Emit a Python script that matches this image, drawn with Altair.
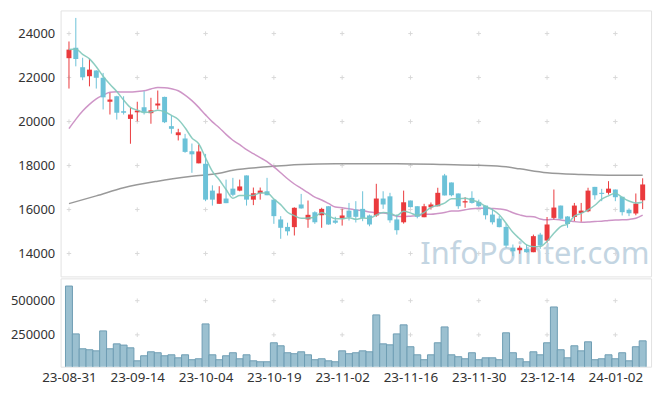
import altair as alt
import pandas as pd

# ---- data ----
dates = [
    "23-08-31", "23-09-01", "23-09-04", "23-09-05", "23-09-06", "23-09-07", "23-09-08",
    "23-09-11", "23-09-12", "23-09-13", "23-09-14", "23-09-15", "23-09-18", "23-09-19",
    "23-09-20", "23-09-21", "23-09-22", "23-09-25", "23-09-26", "23-09-27", "23-10-04",
    "23-10-05", "23-10-06", "23-10-10", "23-10-11", "23-10-12", "23-10-13", "23-10-16",
    "23-10-17", "23-10-18", "23-10-19", "23-10-20", "23-10-23", "23-10-24", "23-10-25",
    "23-10-26", "23-10-27", "23-10-30", "23-10-31", "23-11-01", "23-11-02", "23-11-03",
    "23-11-06", "23-11-07", "23-11-08", "23-11-09", "23-11-10", "23-11-13", "23-11-14",
    "23-11-15", "23-11-16", "23-11-17", "23-11-20", "23-11-21", "23-11-22", "23-11-23",
    "23-11-24", "23-11-27", "23-11-28", "23-11-29", "23-11-30", "23-12-01", "23-12-04",
    "23-12-05", "23-12-06", "23-12-07", "23-12-08", "23-12-11", "23-12-12", "23-12-13",
    "23-12-14", "23-12-15", "23-12-18", "23-12-19", "23-12-20", "23-12-21", "23-12-22",
    "23-12-26", "23-12-27", "23-12-28", "24-01-02", "24-01-03", "24-01-04", "24-01-05",
    "24-01-08",
]
opens = [22880, 23350, 22470, 22060, 22320, 21990, 20900, 21150, 20470, 20120,
         20420, 20650, 20380, 20730, 21120, 19790, 19380, 19230, 18650, 18100,
         18080, 16860, 16260, 16500, 16950, 16860, 17550, 16450, 16740, 16830,
         16450, 15550, 15210, 15200, 16230, 15550, 15880, 15740, 16150, 15500,
         15590, 15950, 16000, 16030, 15730, 15730, 16500, 16600, 15550, 15420,
         16410, 16150, 15650, 16100, 16150, 17550, 17230, 16730, 16320, 16530,
         16350, 16180, 15770, 15590, 15210, 14270, 14150, 14210, 14060, 14860,
         14590, 15620, 16180, 15680, 15660, 15840, 15920, 17030, 16760, 16760,
         16910, 16580, 15990, 15820, 16420]
highs = [23640, 24710, 22900, 22850, 22330, 22210, 21300, 21170, 21150, 20620,
         20900, 21380, 21080, 21410, 21130, 20270, 19670, 19440, 19000, 18950,
         18530, 17100, 17060, 17360, 17440, 17360, 17550, 17000, 17000, 17440,
         16460, 15700, 15400, 16100, 16710, 16410, 15920, 16080, 16150, 15670,
         16030, 16300, 16380, 16830, 15770, 17170, 16830, 16760, 15770, 16860,
         16410, 16150, 16260, 16320, 16990, 17620, 17230, 16730, 16560, 16830,
         16450, 16180, 16030, 15700, 15360, 14410, 14360, 14410, 14860, 14940,
         15660, 16910, 16180, 15700, 16300, 16300, 16990, 17030, 16940, 17290,
         16910, 16580, 16050, 16730, 17420]
lows = [21500, 22510, 21880, 21600, 21500, 20550, 20320, 20090, 20320, 18990,
        20010, 20320, 19900, 20550, 19930, 19450, 19140, 18580, 17670, 18100,
        16380, 16180, 16260, 16290, 16600, 16830, 16180, 16200, 16450, 16650,
        15350, 14670, 14820, 14820, 16040, 15170, 15350, 15170, 15310, 15350,
        15270, 15500, 15410, 15470, 15240, 15670, 16030, 15400, 14860, 15360,
        16100, 15600, 15650, 16000, 16150, 16640, 16600, 16030, 16080, 16270,
        16120, 15550, 15320, 15190, 14270, 13880, 13990, 14040, 14060, 14210,
        14490, 15550, 15550, 15170, 15480, 15450, 15880, 16450, 16380, 16680,
        16380, 15730, 15700, 15740, 16020]
closes = [23270, 22840, 22010, 22360, 21990, 21100, 21000, 20400, 20400, 20320,
          20500, 20440, 20510, 20820, 19970, 19670, 19510, 18620, 18510, 18640,
          16450, 16450, 16730, 16290, 16670, 17050, 16450, 16740, 16860, 16650,
          15700, 15170, 15010, 16080, 16050, 15760, 15420, 16030, 15320, 15400,
          15730, 15650, 15670, 15620, 15320, 16500, 16230, 15510, 15060, 16330,
          16110, 15670, 16150, 16230, 16760, 16640, 16650, 16150, 16380, 16300,
          16150, 15740, 15420, 15200, 14360, 14100, 14260, 14060, 14790, 14360,
          15320, 16090, 15580, 15340, 16180, 15950, 16860, 16650, 16710, 16950,
          16560, 15880, 15830, 16270, 17140]
volumes = [607000, 257000, 148000, 141000, 133000, 279000, 148000, 184000, 175000, 155000,
           60000, 97000, 126000, 119000, 97000, 104000, 82000, 104000, 68000, 75000,
           330000, 104000, 68000, 97000, 119000, 75000, 104000, 60000, 53000, 53000,
           192000, 170000, 119000, 112000, 126000, 104000, 68000, 75000, 60000, 53000,
           133000, 112000, 119000, 133000, 126000, 396000, 184000, 177000, 257000, 323000,
           163000, 104000, 68000, 104000, 192000, 308000, 104000, 90000, 75000, 119000,
           68000, 82000, 82000, 68000, 265000, 119000, 75000, 53000, 126000, 104000,
           192000, 454000, 141000, 82000, 170000, 133000, 199000, 68000, 75000, 104000,
           75000, 119000, 60000, 163000, 206000]
# moving-average values read off the picture where earlier data is not shown
ma5_head = [23270, 23300, 23050, 22850]
ma20_head = [19680, 20100, 20480, 20780, 21030, 21200, 21330, 21350, 21340, 21340,
             21370, 21400, 21480, 21550, 21540, 21490, 21400, 21200, 20950]
ma_long_idx = [0, 4, 8, 13, 18, 22, 24, 29, 34, 39, 48, 55, 60, 64, 66, 70, 75, 79, 84]
ma_long_val = [16270, 16620, 16990, 17290, 17510, 17650, 17790, 17940, 18045, 18080,
               18080, 18045, 18010, 17940, 17850, 17670, 17590, 17560, 17560]
tick_idx = [0, 10, 20, 30, 40, 50, 60, 70, 80]
price_ticks = [14000, 16000, 18000, 20000, 22000, 24000]
vol_ticks = [250000, 500000]
watermark = ["InfoPointer.com"]

# ---- tables ----
N = len(closes)
df = pd.DataFrame({"i": list(range(N)), "date": dates, "open": opens, "high": highs,
                   "low": lows, "close": closes, "volume": volumes})
ma5 = pd.Series(closes, dtype=float).rolling(5).mean()
ma5.iloc[:len(ma5_head)] = ma5_head
ma20 = pd.Series(closes, dtype=float).rolling(20).mean()
ma20.iloc[:len(ma20_head)] = ma20_head
df_ma5 = pd.DataFrame({"i": list(range(N)), "v": ma5})
df_ma20 = pd.DataFrame({"i": list(range(N)), "v": ma20})
df_mal = pd.DataFrame({"i": ma_long_idx, "v": ma_long_val})
grid_p = pd.DataFrame([(a, b) for a in tick_idx for b in price_ticks], columns=["i", "v"])
grid_v = pd.DataFrame([(a, b) for a in tick_idx for b in vol_ticks], columns=["i", "v"])
df_wm = pd.DataFrame({"t": watermark})

RED = "#ea3a3d"
BLUE = "#6cc2d8"
FONT = "Noto Sans"
W, HP, HV = 595, 268, 89

xscale = alt.Scale(domain=[-0.5, N - 0.5], nice=False, zero=False)
pscale = alt.Scale(domain=[12960, 25050], nice=False, zero=False)
vscale = alt.Scale(domain=[16800, 663000], nice=False, zero=False)

x_none = alt.X("i:Q", scale=xscale, axis=None)
py_axis = alt.Axis(values=price_ticks, format="d", ticks=False, domain=False, grid=False,
                   labelPadding=6, title=None)
color = alt.condition("datum.close >= datum.open", alt.value(RED), alt.value(BLUE))
cross = "M-1,0L1,0M0,-1L0,1"

base = alt.Chart(df)
grid1 = alt.Chart(grid_p).mark_point(shape=cross, size=20, filled=False, stroke="#d9d9d9",
                                     strokeWidth=1, opacity=1).encode(
    x=x_none, y=alt.Y("v:Q", scale=pscale, axis=py_axis))
wicks = base.mark_rule(strokeWidth=1).encode(
    x=x_none, y=alt.Y("low:Q", scale=pscale, axis=py_axis), y2="high:Q", color=color)
bodies = base.mark_bar(size=5).encode(
    x=x_none, y=alt.Y("open:Q", scale=pscale, axis=py_axis), y2="close:Q", color=color)
line_long = alt.Chart(df_mal).mark_line(color="#8e8e8e", strokeWidth=1.5, interpolate="monotone",
                                        opacity=0.9).encode(
    x=x_none, y=alt.Y("v:Q", scale=pscale, axis=py_axis))
line20 = alt.Chart(df_ma20).mark_line(color="#c98ac1", strokeWidth=1.5, interpolate="monotone",
                                      opacity=0.9).encode(
    x=x_none, y=alt.Y("v:Q", scale=pscale, axis=py_axis))
line5 = alt.Chart(df_ma5).mark_line(color="#80c8ba", strokeWidth=1.5, interpolate="monotone",
                                    opacity=0.9).encode(
    x=x_none, y=alt.Y("v:Q", scale=pscale, axis=py_axis))
wm = alt.Chart(df_wm).mark_text(font=FONT, fontSize=31, color="#c3d5e2", align="center",
                                baseline="middle").encode(
    text="t:N", x=alt.value(478), y=alt.value(246))

price = alt.layer(grid1, wm, line_long, line20, wicks, bodies, line5).properties(width=W, height=HP)

label_expr = "[" + ",".join("'%s'" % dates[k] for k in tick_idx) + "][round(datum.value/10)]"
x_axis = alt.Axis(values=tick_idx, labelExpr=label_expr, ticks=False, domain=False, grid=False,
                  labelPadding=4, labelFlush=False, labelOverlap=False, labelAngle=0, title=None,
                  labelFontSize=13.5)
vy_axis = alt.Axis(values=vol_ticks, format="d", ticks=False, domain=False, grid=False,
                   labelPadding=6, title=None)

grid2 = alt.Chart(grid_v).mark_point(shape=cross, size=20, filled=False, stroke="#d9d9d9",
                                     strokeWidth=1, opacity=1).encode(
    x=alt.X("i:Q", scale=xscale, axis=x_axis), y=alt.Y("v:Q", scale=vscale, axis=vy_axis))
vbars = base.mark_bar(size=7, fill="#9bc0d0", stroke="#6f9db3", strokeWidth=1, clip=True).encode(
    x=alt.X("i:Q", scale=xscale, axis=x_axis),
    y=alt.Y("volume:Q", scale=vscale, axis=vy_axis))
volume = alt.layer(grid2, vbars).properties(width=W, height=HV)

chart = alt.vconcat(price, volume, spacing=0).properties(
    padding={"top": 0, "left": 1, "right": 5, "bottom": 5}
).configure_view(stroke="#e3e3e3").configure_axis(
    labelFont=FONT, labelFontSize=13, labelColor="#333"
)

chart.save("out.html", embed_options={"renderer": "svg", "actions": False})
